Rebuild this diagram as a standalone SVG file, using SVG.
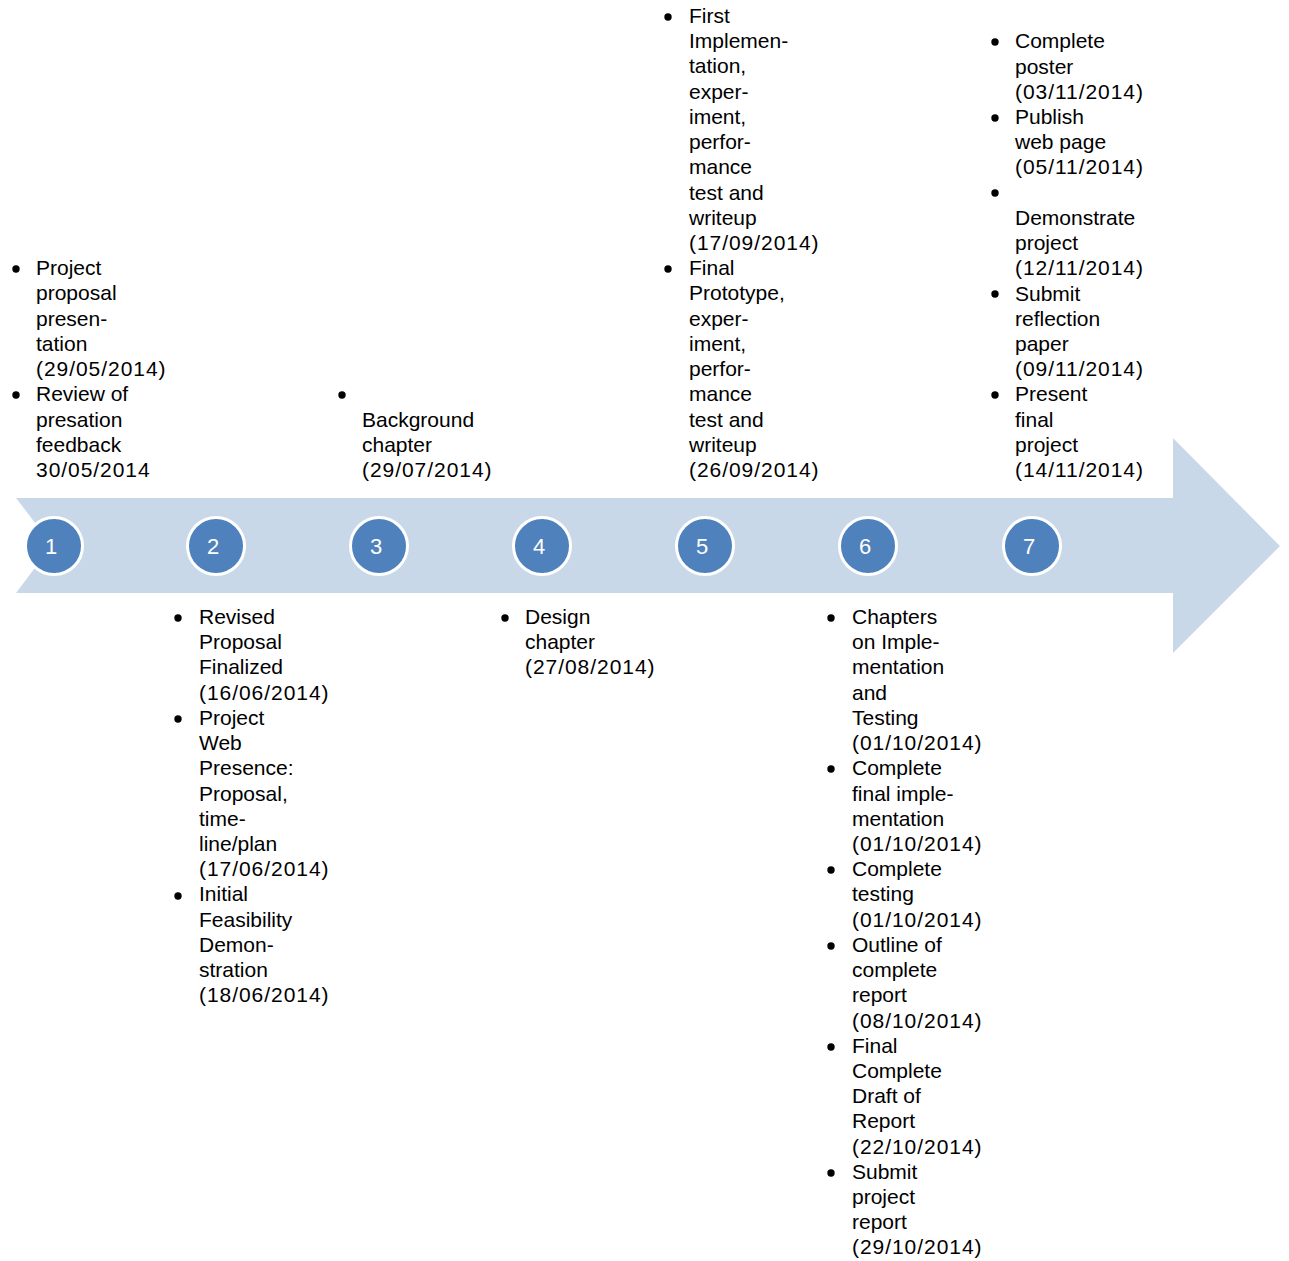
<svg xmlns="http://www.w3.org/2000/svg" width="1289" height="1261" viewBox="0 0 1289 1261">
<style>
.t{font-family:"Liberation Sans",Arial,sans-serif;font-size:21px;fill:#000}
.d{letter-spacing:0.95px}
.n{font-family:"Liberation Sans",Arial,sans-serif;font-size:22px;fill:#fff;text-anchor:middle}
.c{fill:#4F81BD;stroke:#fff;stroke-width:3}
.b{fill:#000}
</style>
<rect width="1289" height="1261" fill="#fff"/>
<g id="connectors">
<polygon points="16,498 1173,498 1173,438 1280,546 1173,653 1173,593 16,593 52,545" fill="#C9D8E9"/>
</g>
<g id="node1">
<circle class="c" cx="54" cy="546" r="28.5"/><text class="n" x="51" y="554">1</text>
<circle class="b" cx="16" cy="269" r="3.7"/><circle class="b" cx="16" cy="395" r="3.7"/>
<text class="t"><tspan x="36" y="275.2">Project</tspan><tspan x="36" dy="25.22">proposal</tspan><tspan x="36" dy="25.22">presen-</tspan><tspan x="36" dy="25.22">tation</tspan><tspan class="d" x="36" dy="25.22">(29/05/2014)</tspan><tspan x="36" dy="25.22">Review of</tspan><tspan x="36" dy="25.22">presation</tspan><tspan x="36" dy="25.22">feedback</tspan><tspan class="d" x="36" dy="25.22">30/05/2014</tspan></text>
</g>
<g id="node2">
<circle class="c" cx="216" cy="546" r="28.5"/><text class="n" x="213" y="554">2</text>
<circle class="b" cx="178" cy="618" r="3.7"/><circle class="b" cx="178" cy="719" r="3.7"/><circle class="b" cx="178" cy="896" r="3.7"/>
<text class="t"><tspan x="199" y="624">Revised</tspan><tspan x="199" dy="25.22">Proposal</tspan><tspan x="199" dy="25.22">Finalized</tspan><tspan class="d" x="199" dy="25.22">(16/06/2014)</tspan><tspan x="199" dy="25.22">Project</tspan><tspan x="199" dy="25.22">Web</tspan><tspan x="199" dy="25.22">Presence:</tspan><tspan x="199" dy="25.22">Proposal,</tspan><tspan x="199" dy="25.22">time-</tspan><tspan x="199" dy="25.22">line/plan</tspan><tspan class="d" x="199" dy="25.22">(17/06/2014)</tspan><tspan x="199" dy="25.22">Initial</tspan><tspan x="199" dy="25.22">Feasibility</tspan><tspan x="199" dy="25.22">Demon-</tspan><tspan x="199" dy="25.22">stration</tspan><tspan class="d" x="199" dy="25.22">(18/06/2014)</tspan></text>
</g>
<g id="node3">
<circle class="c" cx="379" cy="546" r="28.5"/><text class="n" x="376" y="554">3</text>
<circle class="b" cx="342" cy="395" r="3.7"/>
<text class="t"><tspan x="362" y="426.6">Background</tspan><tspan x="362" dy="25.22">chapter</tspan><tspan class="d" x="362" dy="25.22">(29/07/2014)</tspan></text>
</g>
<g id="node4">
<circle class="c" cx="542" cy="546" r="28.5"/><text class="n" x="539" y="554">4</text>
<circle class="b" cx="505" cy="618" r="3.7"/>
<text class="t"><tspan x="525" y="624">Design</tspan><tspan x="525" dy="25.22">chapter</tspan><tspan class="d" x="525" dy="25.22">(27/08/2014)</tspan></text>
</g>
<g id="node5">
<circle class="c" cx="705" cy="546" r="28.5"/><text class="n" x="702" y="554">5</text>
<circle class="b" cx="668" cy="17" r="3.7"/><circle class="b" cx="668" cy="269" r="3.7"/>
<text class="t"><tspan x="689" y="23">First</tspan><tspan x="689" dy="25.22">Implemen-</tspan><tspan x="689" dy="25.22">tation,</tspan><tspan x="689" dy="25.22">exper-</tspan><tspan x="689" dy="25.22">iment,</tspan><tspan x="689" dy="25.22">perfor-</tspan><tspan x="689" dy="25.22">mance</tspan><tspan x="689" dy="25.22">test and</tspan><tspan x="689" dy="25.22">writeup</tspan><tspan class="d" x="689" dy="25.22">(17/09/2014)</tspan><tspan x="689" dy="25.22">Final</tspan><tspan x="689" dy="25.22">Prototype,</tspan><tspan x="689" dy="25.22">exper-</tspan><tspan x="689" dy="25.22">iment,</tspan><tspan x="689" dy="25.22">perfor-</tspan><tspan x="689" dy="25.22">mance</tspan><tspan x="689" dy="25.22">test and</tspan><tspan x="689" dy="25.22">writeup</tspan><tspan class="d" x="689" dy="25.22">(26/09/2014)</tspan></text>
</g>
<g id="node6">
<circle class="c" cx="868" cy="546" r="28.5"/><text class="n" x="865" y="554">6</text>
<circle class="b" cx="831" cy="618" r="3.7"/><circle class="b" cx="831" cy="769" r="3.7"/><circle class="b" cx="831" cy="870" r="3.7"/><circle class="b" cx="831" cy="946" r="3.7"/><circle class="b" cx="831" cy="1047" r="3.7"/><circle class="b" cx="831" cy="1173" r="3.7"/>
<text class="t"><tspan x="852" y="624">Chapters</tspan><tspan x="852" dy="25.22">on Imple-</tspan><tspan x="852" dy="25.22">mentation</tspan><tspan x="852" dy="25.22">and</tspan><tspan x="852" dy="25.22">Testing</tspan><tspan class="d" x="852" dy="25.22">(01/10/2014)</tspan><tspan x="852" dy="25.22">Complete</tspan><tspan x="852" dy="25.22">final imple-</tspan><tspan x="852" dy="25.22">mentation</tspan><tspan class="d" x="852" dy="25.22">(01/10/2014)</tspan><tspan x="852" dy="25.22">Complete</tspan><tspan x="852" dy="25.22">testing</tspan><tspan class="d" x="852" dy="25.22">(01/10/2014)</tspan><tspan x="852" dy="25.22">Outline of</tspan><tspan x="852" dy="25.22">complete</tspan><tspan x="852" dy="25.22">report</tspan><tspan class="d" x="852" dy="25.22">(08/10/2014)</tspan><tspan x="852" dy="25.22">Final</tspan><tspan x="852" dy="25.22">Complete</tspan><tspan x="852" dy="25.22">Draft of</tspan><tspan x="852" dy="25.22">Report</tspan><tspan class="d" x="852" dy="25.22">(22/10/2014)</tspan><tspan x="852" dy="25.22">Submit</tspan><tspan x="852" dy="25.22">project</tspan><tspan x="852" dy="25.22">report</tspan><tspan class="d" x="852" dy="25.22">(29/10/2014)</tspan></text>
</g>
<g id="node7">
<circle class="c" cx="1032" cy="546" r="28.5"/><text class="n" x="1029" y="554">7</text>
<circle class="b" cx="995" cy="42" r="3.7"/><circle class="b" cx="995" cy="118" r="3.7"/><circle class="b" cx="995" cy="193" r="3.7"/><circle class="b" cx="995" cy="294" r="3.7"/><circle class="b" cx="995" cy="395" r="3.7"/>
<text class="t"><tspan x="1015" y="48.3">Complete</tspan><tspan x="1015" dy="25.22">poster</tspan><tspan class="d" x="1015" dy="25.22">(03/11/2014)</tspan><tspan x="1015" dy="25.22">Publish</tspan><tspan x="1015" dy="25.22">web page</tspan><tspan class="d" x="1015" dy="25.22">(05/11/2014)</tspan><tspan x="1015" y="224.84">Demonstrate</tspan><tspan x="1015" dy="25.22">project</tspan><tspan class="d" x="1015" dy="25.22">(12/11/2014)</tspan><tspan x="1015" dy="25.22">Submit</tspan><tspan x="1015" dy="25.22">reflection</tspan><tspan x="1015" dy="25.22">paper</tspan><tspan class="d" x="1015" dy="25.22">(09/11/2014)</tspan><tspan x="1015" dy="25.22">Present</tspan><tspan x="1015" dy="25.22">final</tspan><tspan x="1015" dy="25.22">project</tspan><tspan class="d" x="1015" dy="25.22">(14/11/2014)</tspan></text>
</g>
</svg>
